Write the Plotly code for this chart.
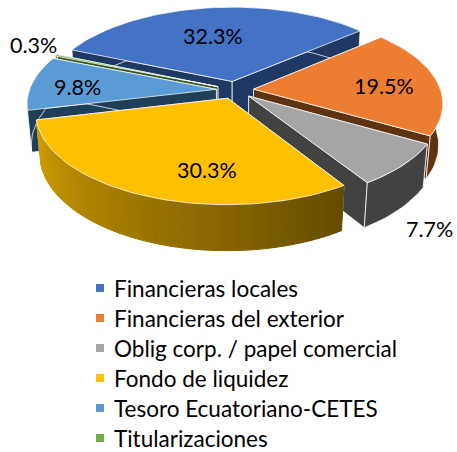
import math
import plotly.graph_objects as go

categories = ["Financieras locales", "Financieras del exterior", "Oblig corp. / papel comercial",
              "Fondo de liquidez", "Tesoro Ecuatoriano-CETES", "Titularizaciones"]
values = [32.3, 19.5, 7.7, 30.3, 9.8, 0.3]
labels = ["32.3%", "19.5%", "7.7%", "30.3%", "9.8%", "0.3%"]
top_colors = ["#4472C4", "#ED7D31", "#A5A5A5", "#FFC000", "#5B9BD5", "#70AD47"]
side_colors = ["#203864", "#5F3210", "#424242", "#8a6c00", "#1F3E57", "#385723"]
draw_order = [0, 5, 4, 1, 2, 3]

W, H = 457, 452
CX, CY = 235, 90
FOCAL_RX = 187.0
CAM_D = 5.9
TILT = math.radians(62)
THICK = 0.2525
EXPLODE = 0.10
START = -67.0
FONT = "Lato"
LABEL_PX = [(213, 36), (384, 86), (429, 229), (207, 170), (77, 87), (33, 45)]
LEGEND_TOP = 288
LEGEND_STEP = 30.0


def project(u, v, z=0.0):
    ys = v * math.cos(TILT) - z * math.sin(TILT)
    d = CAM_D - (v * math.sin(TILT) + z * math.cos(TILT))
    f = FOCAL_RX * CAM_D
    return CX + f * u / d, CY + f * ys / d


def poly(points, fill, line="rgba(255,255,255,0.75)", width=1):
    xs = [p[0] for p in points] + [points[0][0]]
    ys = [p[1] for p in points] + [points[0][1]]
    return go.Scatter(x=xs, y=ys, mode="lines", fill="toself", fillcolor=fill,
                      line=dict(color=line, width=width), hoverinfo="skip", showlegend=False)


def scale(hex_color, k):
    r, g, b = (int(hex_color[i:i + 2], 16) for i in (1, 3, 5))
    return f"rgb({int(r * k)},{int(g * k)},{int(b * k)})"


total = sum(values)
spans, acc = [], START
for v in values:
    spans.append((acc, acc + v / total * 360))
    acc += v / total * 360

fig = go.Figure()
for i in draw_order:
    a0, a1 = spans[i]
    mid = math.radians((a0 + a1) / 2)
    ox, oy = EXPLODE * math.sin(mid), -EXPLODE * math.cos(mid)
    n = max(3, int((a1 - a0) / 2))
    rim = [(ox + math.sin(math.radians(a0 + (a1 - a0) * j / n)),
            oy - math.cos(math.radians(a0 + (a1 - a0) * j / n))) for j in range(n + 1)]
    rim_top = [project(u, v) for u, v in rim]
    rim_bot = [project(u, v, -THICK) for u, v in rim]
    apex_t = project(ox, oy)
    apex_b = project(ox, oy, -THICK)
    fig.add_trace(poly([apex_t, rim_top[0], rim_bot[0], apex_b], side_colors[i]))
    fig.add_trace(poly([apex_t, rim_top[-1], rim_bot[-1], apex_b], side_colors[i]))
    if i == 3:
        for j in range(n):
            t = j / (n - 1)
            k = 0.40 + 0.42 * t
            c = scale(top_colors[i], k)
            fig.add_trace(poly([rim_top[j], rim_top[j + 1], rim_bot[j + 1], rim_bot[j]], c, line=c))
    else:
        fig.add_trace(poly(rim_top + rim_bot[::-1], side_colors[i]))
    fig.add_trace(poly([apex_t] + rim_top, top_colors[i]))

for (px, py), text in zip(LABEL_PX, labels):
    fig.add_annotation(x=px, y=py, text=text, showarrow=False, xref="x", yref="y",
                       font=dict(family=FONT, size=21.5, color="#000000"))

leg_y = [LEGEND_TOP + LEGEND_STEP * i for i in range(len(categories))]
fig.add_trace(go.Scatter(x=[100] * len(categories), y=leg_y, mode="markers",
                         marker=dict(symbol="square", size=8, color=top_colors),
                         hoverinfo="skip", showlegend=False))
for y, c in zip(leg_y, categories):
    fig.add_annotation(x=112, y=y, text=c, showarrow=False, xanchor="left", xref="x", yref="y",
                       font=dict(family=FONT, size=22.5, color="#000000"))

fig.update_xaxes(range=[0, W], visible=False, fixedrange=True)
fig.update_yaxes(range=[H, 0], visible=False, fixedrange=True)
fig.update_layout(width=W, height=H, margin=dict(l=0, r=0, t=0, b=0),
                  paper_bgcolor="white", plot_bgcolor="white", showlegend=False)
fig.write_html("out.html", post_script="document.body.style.margin='0';document.body.style.overflow='hidden';",
               config={"displayModeBar": False})
